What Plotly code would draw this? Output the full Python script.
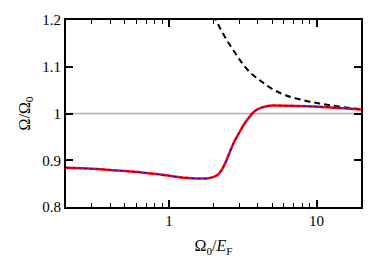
import plotly.graph_objects as go

# Red solid / blue dotted curve (Omega/Omega0 vs Omega0/EF)
x_sol = [0.2, 0.3, 0.5, 0.65, 0.85, 1.05, 1.3, 1.5, 1.8, 2.03, 2.19, 2.37, 2.56, 2.77,
         3.0, 3.24, 3.51, 3.8, 4.22, 4.81, 5.2, 6.5, 8.5, 10.5, 14.4, 20]
y_sol = [0.884, 0.882, 0.877, 0.874, 0.870, 0.866, 0.8625, 0.8612, 0.8612, 0.865, 0.872,
         0.890, 0.915, 0.940, 0.960, 0.978, 0.993, 1.005, 1.0125, 1.0168, 1.017, 1.0165,
         1.0155, 1.0143, 1.0115, 1.0086]

# Black dashed curve
x_dash = [2.0, 2.08, 2.25, 2.50, 2.77, 3.08, 3.51, 4.11, 4.93, 6.16, 8.11, 10.5, 13.7, 17.8, 20]
y_dash = [1.21, 1.2, 1.1785, 1.1535, 1.132, 1.1106, 1.089, 1.0714, 1.0536, 1.039, 1.0285,
          1.0214, 1.0156, 1.0107, 1.0092]

# Reference line
x_ref = [0.2, 20]
y_ref = [1.0, 1.0]

x_major = [1, 10]
x_major_text = ["1", "10"]
x_minor = [0.2, 0.3, 0.4, 0.5, 0.6, 0.7, 0.8, 0.9, 2, 3, 4, 5, 6, 7, 8, 9, 20]
y_ticks = [0.8, 0.9, 1.0, 1.1, 1.2]
y_tick_text = ["0.8", "0.9", "1", "1.1", "1.2"]

fig = go.Figure()
fig.add_trace(go.Scatter(x=x_ref, y=y_ref, mode="lines",
                         line=dict(color="#b0b0b0", width=1.5), showlegend=False))
fig.add_trace(go.Scatter(x=x_dash, y=y_dash, mode="lines", line_shape="spline",
                         line=dict(color="black", width=2, dash="6px,4px"), showlegend=False))
fig.add_trace(go.Scatter(x=x_sol, y=y_sol, mode="lines", line_shape="spline",
                         line=dict(color="red", width=2.5), showlegend=False))
fig.add_trace(go.Scatter(x=x_sol, y=y_sol, mode="lines", line_shape="spline",
                         line=dict(color="blue", width=1, dash="dot"), showlegend=False))

font_family = "Liberation Serif, DejaVu Serif, serif"
fig.update_layout(
    width=374, height=266,
    margin=dict(l=66, r=13, t=20, b=59),
    paper_bgcolor="white", plot_bgcolor="white",
    font=dict(family=font_family, size=15, color="black"),
    xaxis=dict(
        type="log", range=[-0.69897, 1.30103],
        tickmode="array", tickvals=x_major, ticktext=x_major_text,
        ticks="inside", ticklen=7, tickwidth=2, tickcolor="black",
        ticklabelstandoff=-1,
        showline=True, linecolor="black", linewidth=2, mirror="allticks",
        showgrid=False, zeroline=False,
        minor=dict(tickmode="array", tickvals=x_minor, ticks="inside",
                   ticklen=4, tickwidth=1.2, tickcolor="black", showgrid=False),
        title=dict(text="Ω<sub>0</sub>/<i>E</i><sub>F</sub>", standoff=12,
                   font=dict(size=16)),
    ),
    yaxis=dict(
        range=[0.8, 1.2],
        tickmode="array", tickvals=y_ticks, ticktext=y_tick_text,
        ticks="inside", ticklen=7, tickwidth=2, tickcolor="black",
        showline=True, linecolor="black", linewidth=2, mirror="allticks",
        showgrid=False, zeroline=False,
        title=dict(text="Ω/Ω<sub>0</sub>", standoff=8, font=dict(size=16)),
    ),
)

fig.write_html("out.html", config={"displayModeBar": False},
               post_script="document.body.style.margin='0px';")
